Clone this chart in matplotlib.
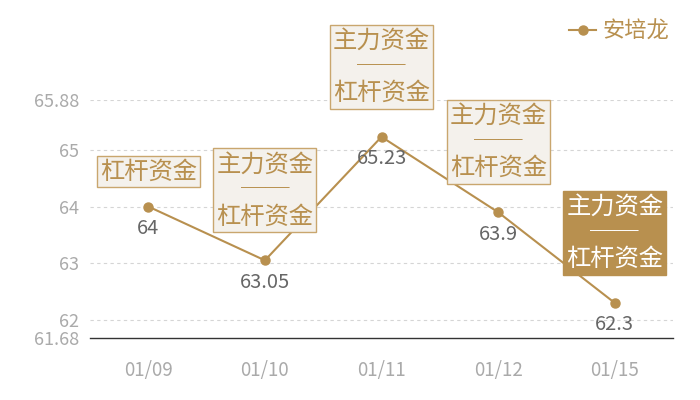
import matplotlib
matplotlib.use("Agg")
import matplotlib.pyplot as plt
from matplotlib.transforms import offset_copy

plt.rcParams['font.family'] = ['Noto Sans CJK SC', 'DejaVu Sans']

categories = ["01/09", "01/10", "01/11", "01/12", "01/15"]
values = [64, 63.05, 65.23, 63.9, 62.3]
value_labels = ["64", "63.05", "65.23", "63.9", "62.3"]
box_texts = ["杠杆资金",
             "主力资金\n──\n杠杆资金",
             "主力资金\n──\n杠杆资金",
             "主力资金\n──\n杠杆资金",
             "主力资金\n──\n杠杆资金"]
box_filled = [False, False, False, False, True]
yticks = [61.68, 62, 63, 64, 65, 65.88]
series_name = "安培龙"

gold = "#b8904f"
edge = "#c9a66e"
light = "#f4f1ec"

fig = plt.figure(figsize=(7, 4), dpi=100)
ax = fig.add_axes([90/700, 62/400, 583/700, 238/400])

x = list(range(len(categories)))
ax.plot(x, values, color=gold, lw=1.5, marker='o', ms=6.5, zorder=3, label=series_name)

ax.set_xlim(-0.5, len(categories) - 0.5)
ax.set_ylim(61.68, 65.88)
ax.set_yticks(yticks)
ax.set_yticklabels([f"{t:g}" for t in yticks])
ax.set_xticks(x)
ax.set_xticklabels(categories)
ax.tick_params(axis='both', length=0, colors='#aaaaaa', labelsize=13)
ax.tick_params(axis='x', labelsize=13.5, pad=16)
ax.tick_params(axis='y', pad=8)
for t in yticks[1:]:
    ax.axhline(t, color='#d5d5d5', lw=0.8, ls=(0, (3, 3)), zorder=1)
for s in ['top', 'right', 'left']:
    ax.spines[s].set_visible(False)
ax.spines['bottom'].set_color('#333333')
ax.spines['bottom'].set_linewidth(1.0)

for i, (v, lab, bt, filled) in enumerate(zip(values, value_labels, box_texts, box_filled)):
    tr = offset_copy(ax.transData, fig=fig, x=0, y=-22, units='dots')
    ax.text(i, v, lab, transform=tr, ha='center', va='center', fontsize=14.5, color='#666666')
    nlines = bt.count("\n") + 1
    dy = 35 if nlines == 1 else 70
    tr2 = offset_copy(ax.transData, fig=fig, x=0, y=dy, units='dots')
    if filled:
        fc, ec, tc = gold, gold, 'white'
    else:
        fc, ec, tc = light, edge, gold
    ax.text(i, v, bt, transform=tr2, ha='center', va='center', fontsize=17.5,
            color=tc, linespacing=1.0, clip_on=False, zorder=4,
            bbox=dict(boxstyle='square,pad=0.12', fc=fc, ec=ec, lw=1.0))

leg = fig.legend(loc='upper right', bbox_to_anchor=(0.985, 1.0), frameon=False,
                 fontsize=16, handlelength=1.2, handletextpad=0.3)
for t in leg.get_texts():
    t.set_color(gold)

fig.savefig("out.png", dpi=100)
